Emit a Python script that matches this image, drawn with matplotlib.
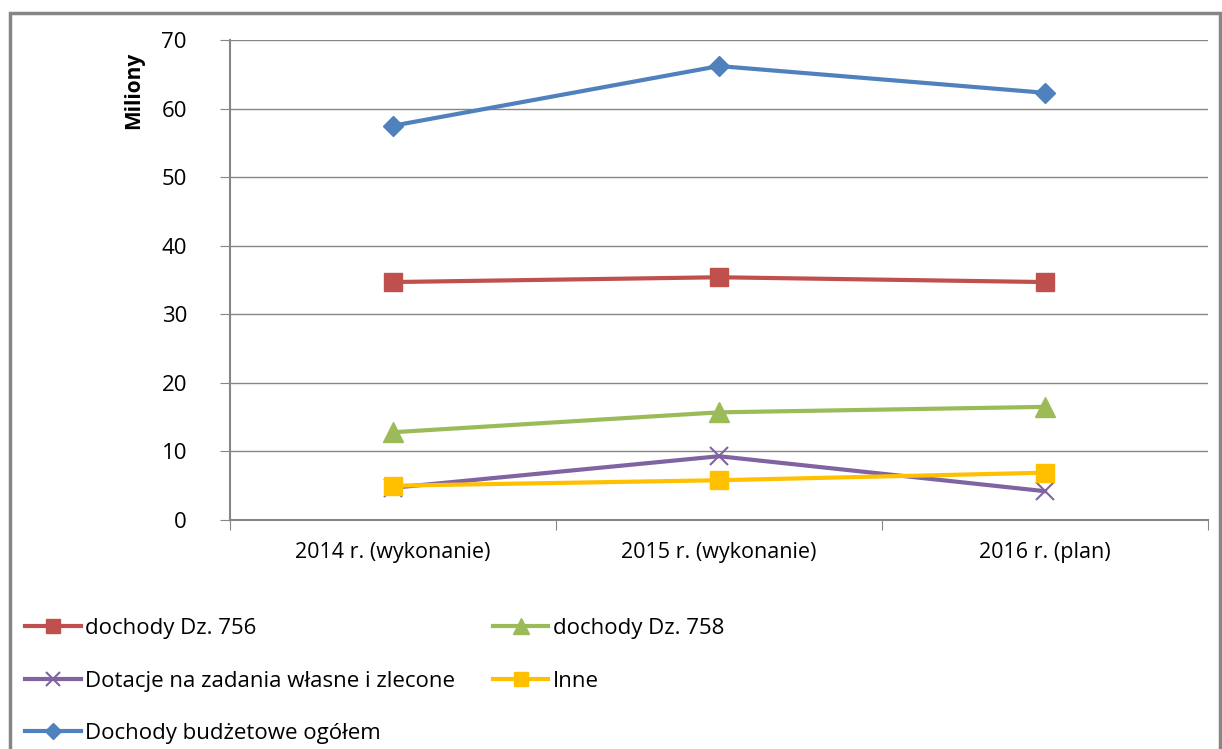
#!/usr/bin/env python3
import matplotlib
matplotlib.use("Agg")
import matplotlib.pyplot as plt
from matplotlib.patches import Rectangle

# data (millions)
years = ["2014 r. (wykonanie)", "2015 r. (wykonanie)", "2016 r. (plan)"]
dz756 = [34.7, 35.4, 34.7]
dz758 = [12.8, 15.7, 16.5]
dotacje = [4.7, 9.3, 4.2]
inne = [5.0, 5.8, 6.9]
ogolem = [57.5, 66.2, 62.3]

plt.rcParams['font.family'] = ['Open Sans', 'DejaVu Sans']

fig = plt.figure(figsize=(12.22, 7.49), dpi=100)
# outer chart border
fig.patches.append(Rectangle((10/1222, -0.1), 1 - 12/1222, 1 - 13/749 + 0.1, transform=fig.transFigure,
                             fill=False, edgecolor="#868686", lw=2.5))

ax = fig.add_axes([230/1222, 1 - 520/749, 978/1222, 480/749])
x = range(len(years))

l_ogolem, = ax.plot(x, ogolem, color="#4F81BD", lw=3, marker="D", ms=10, label="Dochody budżetowe ogółem")
l_756, = ax.plot(x, dz756, color="#C0504D", lw=3, marker="s", ms=13, label="dochody Dz. 756")
l_758, = ax.plot(x, dz758, color="#9BBB59", lw=3, marker="^", ms=15, label="dochody Dz. 758")
l_dot, = ax.plot(x, dotacje, color="#8064A2", lw=3, marker="x", ms=13, mew=1.5, label="Dotacje na zadania własne i zlecone")
l_inne, = ax.plot(x, inne, color="#FFC000", lw=3, marker="s", ms=13, label="Inne")

ax.set_xlim(-0.5, 2.5)
ax.set_ylim(0, 70)
ax.set_yticks(range(0, 71, 10))
ax.yaxis.grid(True, color="#868686", lw=1)
ax.set_axisbelow(True)

# category boundaries as major ticks, labels centred on minor ticks
ax.set_xticks([-0.5, 0.5, 1.5, 2.5])
ax.set_xticklabels([])
ax.set_xticks(list(x), minor=True)
ax.set_xticklabels(years, minor=True)
ax.tick_params(axis="x", which="minor", length=0, pad=16, labelsize=15.5)
ax.tick_params(axis="x", which="major", length=7, color="#868686", direction="out")
ax.tick_params(axis="y", length=7, color="#868686", labelsize=16, pad=24)

for s in ["top", "right"]:
    ax.spines[s].set_visible(False)
for s in ["left", "bottom"]:
    ax.spines[s].set_color("#868686")
    ax.spines[s].set_linewidth(1.5)

ax.set_ylabel("Miliony", fontsize=15, fontweight="bold")
ax.yaxis.set_label_coords(-0.088, 0.895)

# legend filled column-wise
handles = [l_756, l_dot, l_ogolem, l_758, l_inne]
fig.legend(handles=handles, labels=[h.get_label() for h in handles], ncol=2,
           loc="upper left", bbox_to_anchor=(25/1222, 1 - 618/749), frameon=False,
           fontsize=16, handlelength=2.5, handletextpad=0.2, labelspacing=1.42,
           columnspacing=1.7, borderaxespad=0, markerscale=0.8, borderpad=0)

fig.savefig("out.png", dpi=100)
